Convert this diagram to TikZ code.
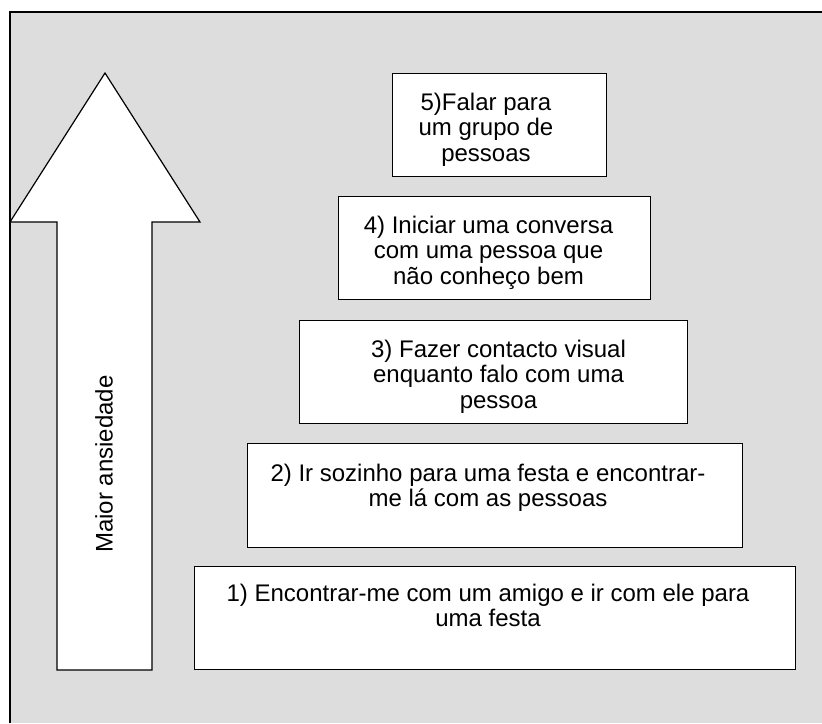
\documentclass[tikz,border=0pt]{standalone}
\usepackage{fontspec}
\setmainfont{Liberation Sans}
\definecolor{bggray}{RGB}{221,221,221}
\begin{document}
\begin{tikzpicture}[x=1pt,y=1pt,
  stepbox/.style={draw=black, line width=1.4pt, fill=white, inner sep=0pt, anchor=north west},
  txt/.style={align=center, inner sep=0pt, anchor=north, font=\fontsize{24}{25.5}\selectfont},
  frame/.style={draw=black, line width=1.2pt},
  bigarrow/.style={draw=black, line width=1.2pt, fill=white, line join=miter}]
\useasboundingbox (0,0) rectangle (822,-723);
% background
\fill[bggray] (10,-12) rectangle (822,-723);
\draw[frame] (10,-723) -- (10,-12) -- (822,-12);
% arrow
\coordinate (tip) at (105,-73);
\draw[bigarrow] (tip) -- (200,-222) -- (152,-222) -- (152,-670) -- (57,-670) -- (57,-222) -- (10,-222) -- cycle;
\node[rotate=90, inner sep=0pt, font=\fontsize{24}{25.5}\selectfont] (lbl) at (104,-464) {Maior ansiedade};
% boxes
\node[stepbox, minimum width=214, minimum height=103] (b5) at (392,-73) {};
\node[stepbox, minimum width=312, minimum height=103] (b4) at (338,-196) {};
\node[stepbox, minimum width=388, minimum height=103] (b3) at (299,-320) {};
\node[stepbox, minimum width=495, minimum height=104] (b2) at (247,-443) {};
\node[stepbox, minimum width=601, minimum height=103] (b1) at (194,-566) {};
% texts
\node[txt] (t5) at (486,-92.5) {5)Falar para\\um grupo de\\pessoas};
\node[txt] (t4) at (488.5,-215.5) {4) Iniciar uma conversa\\com uma pessoa que\\não conheço bem};
\node[txt] (t3) at (498.5,-339.5) {3) Fazer contacto visual\\enquanto falo com uma\\pessoa};
\node[txt] (t2) at (488,-463.5) {2) Ir sozinho para uma festa e encontrar-\\me lá com as pessoas};
\node[txt] (t1) at (488,-583.5) {1) Encontrar-me com um amigo e ir com ele para\\uma festa};
\end{tikzpicture}
\end{document}
